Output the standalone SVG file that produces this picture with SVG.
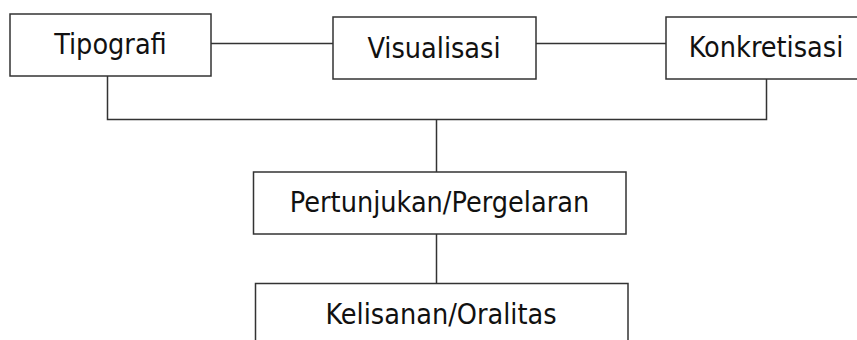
<svg xmlns="http://www.w3.org/2000/svg" width="857" height="340" viewBox="0 0 857 340">
<style>
rect.box{fill:#fff;stroke:#333;stroke-width:1.5}
.conn line,.conn path{stroke:#333;stroke-width:1.5;fill:none}
text{font-family:"DejaVu Sans Condensed","DejaVu Sans","Liberation Sans",sans-serif;font-stretch:condensed;font-size:28.5px;fill:#111;text-anchor:middle}
</style>
<rect width="857" height="340" fill="#fff"/>
<g class="conn" id="connectors">
<line x1="211" y1="43.5" x2="333" y2="43.5"/>
<line x1="536" y1="43.5" x2="666" y2="43.5"/>
<path d="M107.5 76 V119.5 H766.5 V79"/>
<line x1="436.5" y1="119.5" x2="436.5" y2="172"/>
<line x1="436.5" y1="234" x2="436.5" y2="283.5"/>
</g>
<g id="tipografi"><rect class="box" x="10" y="14" width="201" height="62"/><text x="110.5" y="53.5">Tipografi</text></g>
<g id="visualisasi"><rect class="box" x="333" y="17" width="203" height="62"/><text x="434" y="57.5">Visualisasi</text></g>
<g id="konkretisasi"><rect class="box" x="666" y="17" width="200" height="62"/><text x="766" y="57">Konkretisasi</text></g>
<g id="pertunjukan"><rect class="box" x="253.5" y="172" width="372.5" height="62"/><text x="439.5" y="211.5">Pertunjukan/Pergelaran</text></g>
<g id="kelisanan"><rect class="box" x="255.5" y="283.5" width="372.5" height="62"/><text x="441" y="323.5">Kelisanan/Oralitas</text></g>
</svg>
